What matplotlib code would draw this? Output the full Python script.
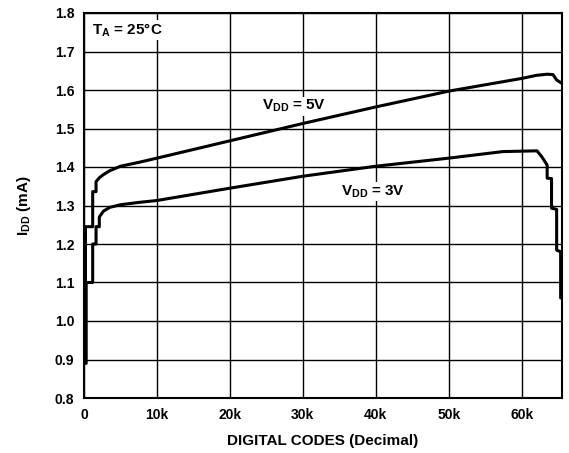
import matplotlib
matplotlib.use('Agg')
import matplotlib.pyplot as plt

# supply current vs input code, two supply voltages
codes_5v = [0, 0, 200, 200, 1190, 1190, 1650, 1650, 2100, 2650, 3500, 5000, 7500,
            10000, 20000, 30000, 40000, 50000, 60000, 62000, 63500, 64300, 64800, 65535]
idd_5v = [0.95, 1.10, 1.10, 1.245, 1.245, 1.336, 1.336, 1.362, 1.372, 1.380, 1.390, 1.402, 1.412,
          1.423, 1.468, 1.513, 1.556, 1.597, 1.630, 1.638, 1.641, 1.640, 1.626, 1.617]

codes_3v = [0, 300, 300, 1190, 1190, 1650, 1650, 2100, 2100, 2650, 3500, 5000, 7500,
            10000, 20000, 30000, 40000, 50000, 57400, 62100, 62750, 63500, 63500, 64100,
            64100, 64800, 64800, 65350, 65350, 65500]
idd_3v = [0.89, 0.89, 1.10, 1.10, 1.20, 1.20, 1.245, 1.245, 1.27, 1.285, 1.295, 1.302, 1.308,
          1.313, 1.345, 1.376, 1.402, 1.423, 1.440, 1.442, 1.427, 1.405, 1.371, 1.370,
          1.293, 1.290, 1.184, 1.180, 1.060, 1.060]

x_ticks = [0, 10000, 20000, 30000, 40000, 50000, 60000]
x_labels = ['0', '10k', '20k', '30k', '40k', '50k', '60k']
y_ticks = [0.8, 0.9, 1.0, 1.1, 1.2, 1.3, 1.4, 1.5, 1.6, 1.7, 1.8]

plt.rcParams['font.family'] = ['Liberation Sans', 'DejaVu Sans']
plt.rcParams['font.weight'] = 'bold'
plt.rcParams['mathtext.fontset'] = 'custom'
plt.rcParams['mathtext.bf'] = 'Liberation Sans:bold'
plt.rcParams['mathtext.rm'] = 'Liberation Sans:bold'

fig = plt.figure(figsize=(5.69, 4.53), dpi=100)
ax = fig.add_axes([84 / 569, 55 / 453, 478 / 569, 385 / 453])

ax.plot(codes_5v, idd_5v, color='black', lw=2.2)
ax.plot(codes_3v, idd_3v, color='black', lw=2.2)

ax.set_xlim(0, 65535)
ax.set_ylim(0.8, 1.8)
ax.set_xticks(x_ticks)
ax.set_xticklabels(x_labels)
ax.set_yticks(y_ticks)
ax.set_yticklabels(['%.1f' % v for v in y_ticks])
ax.tick_params(length=0, labelsize=10, pad=7)
ax.grid(True, color='black', lw=1.0)
for s in ax.spines.values():
    s.set_linewidth(1.5)

ax.set_xlabel('DIGITAL CODES (Decimal)', fontsize=11, fontweight='bold', labelpad=9)
ax.set_ylabel(r'$\mathbf{I_{DD}}$ (mA)', fontsize=11, fontweight='bold', labelpad=16)

box = dict(facecolor='white', edgecolor='none', pad=1)
ax.text(1150, 1.745, r'$\mathbf{T_A}$ = 25°C', fontsize=11, fontweight='bold',
        va='baseline', ha='left', bbox=box)
ax.text(24400, 1.548, r'$\mathbf{V_{DD}}$ = 5V', fontsize=11, fontweight='bold',
        va='baseline', bbox=box)
ax.text(35300, 1.327, r'$\mathbf{V_{DD}}$ = 3V', fontsize=11, fontweight='bold',
        va='baseline', bbox=box)

fig.savefig('out.png', dpi=100)
